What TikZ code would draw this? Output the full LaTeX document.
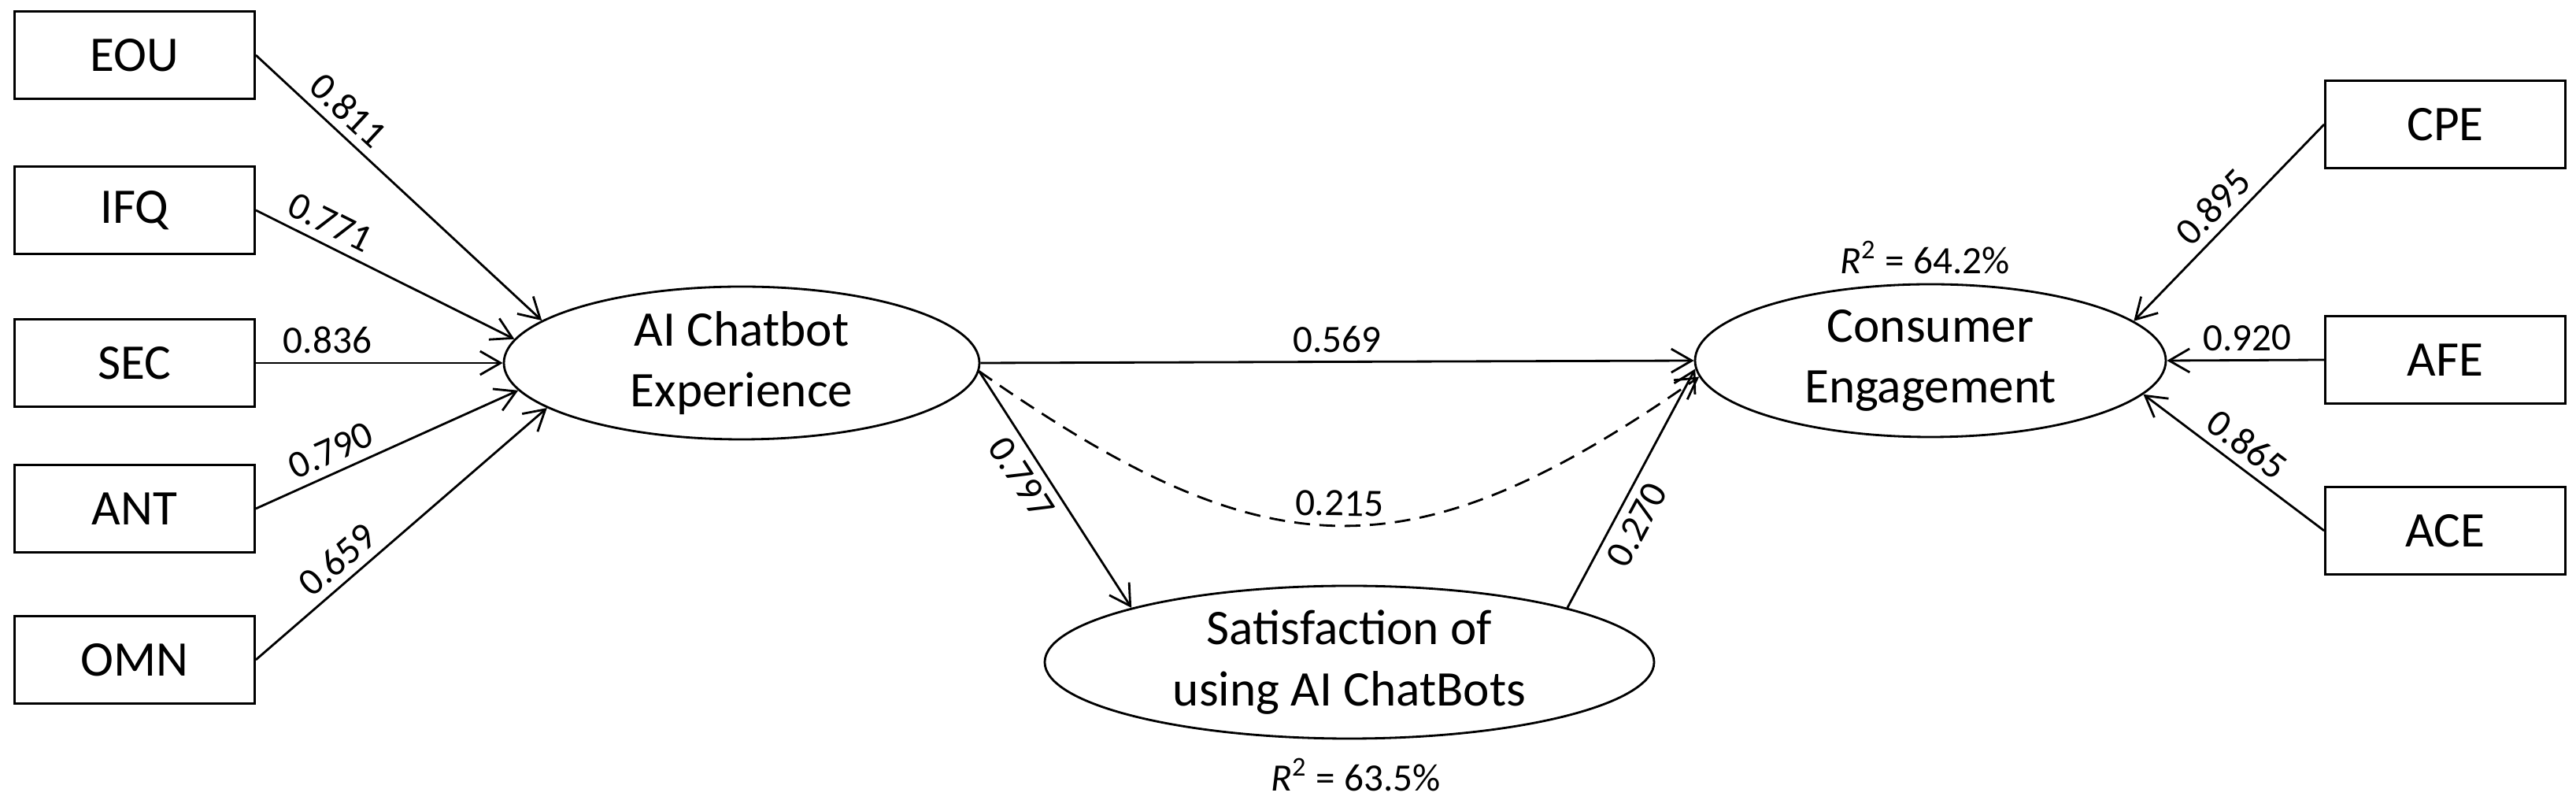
\documentclass[tikz,border=0pt]{standalone}
\usepackage{fontspec}
\setmainfont{Carlito}
\usetikzlibrary{positioning,arrows.meta,shapes.geometric}

\tikzset{
  ind/.style={draw,rectangle,minimum width=3.05cm,minimum height=1.11cm,line width=0.8pt,font=\fontsize{18}{22}\selectfont},
  lat/.style={draw,ellipse,inner sep=0pt,minimum height=1.94cm,align=center,line width=0.8pt,font=\fontsize{18}{22}\selectfont},
  arr/.style={-{Straight Barb[length=2.6mm,width=3mm]},line width=0.8pt},
  wt/.style={sloped,inner sep=3pt,font=\fontsize{14}{16}\selectfont},
  rsq/.style={inner sep=1pt,font=\fontsize{14}{16}\selectfont}
}

\begin{document}
\begin{tikzpicture}
\useasboundingbox (0,0) rectangle (32.72,10.16);

% indicators
\node[ind] (eou) at (1.71,9.46) {EOU};
\node[ind] (ifq) at (1.71,7.49) {IFQ};
\node[ind] (sec) at (1.71,5.55) {SEC};
\node[ind] (ant) at (1.71,3.70) {ANT};
\node[ind] (omn) at (1.71,1.78) {OMN};

\node[ind] (cpe) at (31.06,8.58) {CPE};
\node[ind] (afe) at (31.06,5.59) {AFE};
\node[ind] (ace) at (31.06,3.42) {ACE};

% constructs
\node[lat,minimum width=6.04cm] (aice) at (9.42,5.55) {AI Chatbot\\Experience};
\node[lat,minimum width=7.74cm] (sat) at (17.14,1.75) {Satisfaction of\\using AI ChatBots};
\node[lat,minimum width=5.98cm] (ce) at (24.52,5.58) {Consumer\\Engagement};

\node[rsq] (rce) at (24.45,6.89) {\textit{R}\textsuperscript{2} = 64.2\%};
\node[rsq] (rsat) at (17.22,0.32) {\textit{R}\textsuperscript{2} = 63.5\%};

% loadings
\draw[arr] (eou.east) -- node[wt,above,pos=0.27] {0.811} (aice.168);
\draw[arr] (ifq.east) -- node[wt,above,pos=0.25] {0.771} (aice.174);
\draw[arr] (sec.east) -- node[wt,above,pos=0.29] {0.836} (aice.west);
\draw[arr] (ant.east) -- node[wt,above,pos=0.32] {0.790} (aice.187);
\draw[arr] (omn.east) -- node[wt,above,pos=0.33] {0.659} (aice.193);

\draw[arr] (cpe.west) -- node[wt,above,pos=0.5] {0.895} (ce.11);
\draw[arr] (afe.west) -- node[wt,above,pos=0.49] {0.920} (ce.east);
\draw[arr] (ace.west) -- node[wt,above,pos=0.5] {0.865} (ce.-9);

% structural paths
\draw[arr] (aice.east) -- node[wt,above] {0.569} (ce.west);
\draw[arr,dash pattern=on 2mm off 1.2mm] (aice.-2) to[out=-35,in=-145,looseness=1.25] node[wt,above] {0.215} (ce.184);
\draw[arr] (aice.-2) -- node[wt,below,pos=0.4] {0.797} (sat.166);
\draw[arr] (sat.14) -- node[wt,below,pos=0.39] {0.270} (ce.182);

\end{tikzpicture}
\end{document}
